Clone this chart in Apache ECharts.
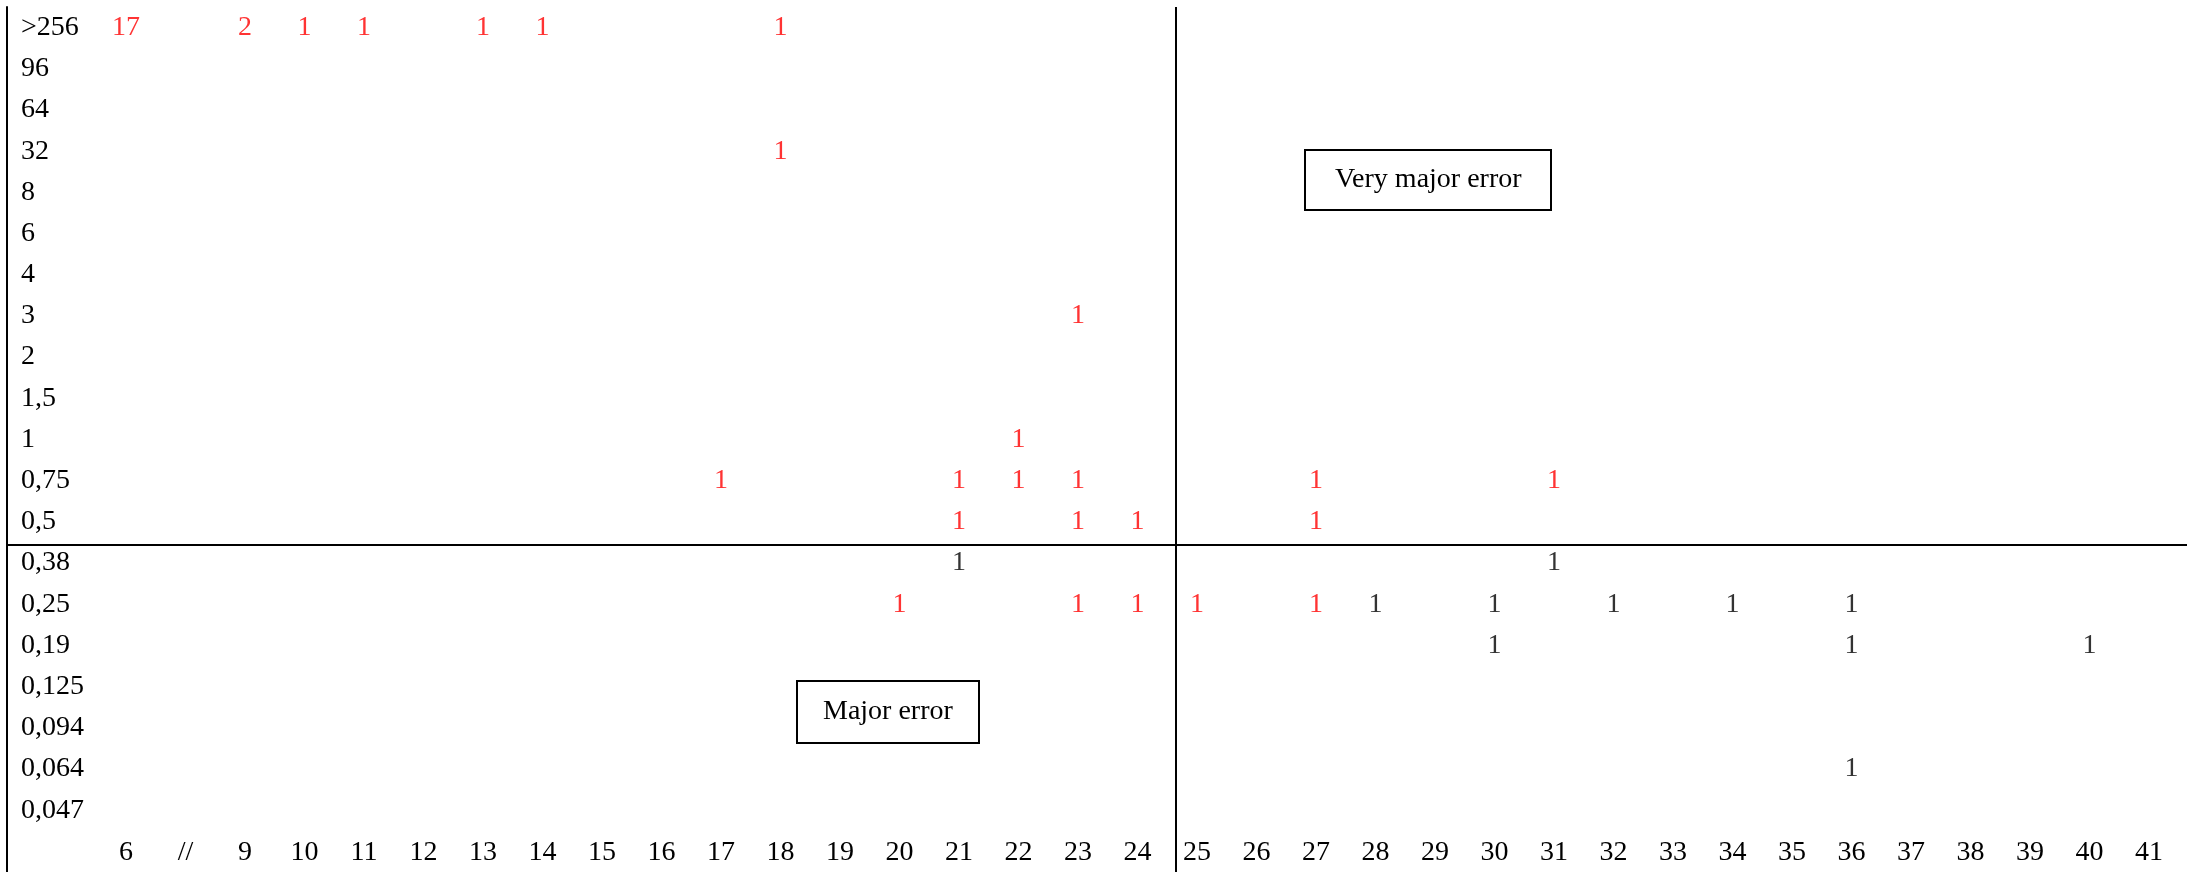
<!DOCTYPE html>
<html>
<head>
<meta charset="utf-8">
<title>MIC distribution</title>
<script src="https://cdn.jsdelivr.net/npm/echarts@6/dist/echarts.min.js"></script>
<style>
  html, body { margin: 0; padding: 0; background: #ffffff; }
  #chart { width: 2190px; height: 872px; }
</style>
</head>
<body>
<div id="chart"></div>
<script>
// Column categories (x) and MIC rows (y, top to bottom)
const xLabels = ['6', '//', '9', '10', '11', '12', '13', '14', '15', '16', '17', '18', '19', '20',
  '21', '22', '23', '24', '25', '26', '27', '28', '29', '30', '31', '32', '33', '34', '35', '36',
  '37', '38', '39', '40', '41'];
const yLabels = ['>256', '96', '64', '32', '8', '6', '4', '3', '2', '1,5', '1', '0,75', '0,5',
  '0,38', '0,25', '0,19', '0,125', '0,094', '0,064', '0,047'];

// Counts shown in red: [column, row, count]
const redCounts = [
  ['6', '>256', 17], ['9', '>256', 2], ['10', '>256', 1], ['11', '>256', 1],
  ['13', '>256', 1], ['14', '>256', 1], ['18', '>256', 1],
  ['18', '32', 1],
  ['23', '3', 1],
  ['22', '1', 1],
  ['17', '0,75', 1], ['21', '0,75', 1], ['22', '0,75', 1], ['23', '0,75', 1],
  ['27', '0,75', 1], ['31', '0,75', 1],
  ['21', '0,5', 1], ['23', '0,5', 1], ['24', '0,5', 1], ['27', '0,5', 1],
  ['20', '0,25', 1], ['23', '0,25', 1], ['24', '0,25', 1], ['25', '0,25', 1], ['27', '0,25', 1]
];

// Counts shown in black: [column, row, count]
const blackCounts = [
  ['21', '0,38', 1], ['31', '0,38', 1],
  ['28', '0,25', 1], ['30', '0,25', 1], ['32', '0,25', 1], ['34', '0,25', 1], ['36', '0,25', 1],
  ['30', '0,19', 1], ['36', '0,19', 1], ['40', '0,19', 1],
  ['36', '0,064', 1]
];

// Divider positions in axis units: between columns 24|25 and rows 0,5|0,38
const dividerX = 17.65;
const dividerY = 12.55;

const FONT = '"Liberation Serif", "Times New Roman", serif';
const FS = 28;

function toPoints(list) {
  return list.map(([x, y, n]) => [xLabels.indexOf(x), yLabels.indexOf(y), n]);
}

function countSeries(name, list, color) {
  return {
    name: name,
    type: 'scatter',
    symbolSize: 0,
    data: toPoints(list),
    itemStyle: { color: 'rgba(0,0,0,0)' },
    label: {
      show: true,
      position: 'inside',
      formatter: p => String(p.value[2]),
      color: color,
      fontFamily: FONT,
      fontSize: FS
    },
    emphasis: { disabled: true },
    silent: true
  };
}

const chart = echarts.init(document.getElementById('chart'), null, { renderer: 'canvas' });

const boxText = {
  fontFamily: FONT,
  fontSize: FS,
  fontWeight: 'normal',
  color: '#000000',
  lineHeight: 30
};

chart.setOption({
  backgroundColor: '#ffffff',
  animation: false,
  title: [
    {
      text: 'Very major error',
      left: 1305, top: 150,
      padding: [15, 30],
      borderColor: '#000000', borderWidth: 2,
      textStyle: boxText
    },
    {
      text: 'Major error',
      left: 797, top: 681,
      padding: [16, 26],
      borderColor: '#000000', borderWidth: 2,
      textStyle: boxText
    }
  ],
  grid: { left: 7, right: 3, top: 7, bottom: 0, containLabel: false },
  xAxis: {
    type: 'value',
    min: -2,
    max: 34.64,
    interval: 1,
    axisLine: { show: false },
    axisTick: { show: false },
    splitLine: { show: false },
    axisLabel: {
      inside: true,
      margin: 5,
      showMinLabel: true,
      showMaxLabel: true,
      fontFamily: FONT,
      fontSize: FS,
      color: '#000000',
      formatter: v => (Number.isInteger(v) && v >= 0 && v < xLabels.length) ? xLabels[v] : ''
    }
  },
  yAxis: {
    type: 'value',
    inverse: true,
    min: -0.5,
    max: 20.5,
    interval: 0.5,
    axisLine: { show: true, onZero: false, lineStyle: { color: '#000000', width: 2 } },
    axisTick: { show: false },
    splitLine: { show: false },
    axisLabel: {
      inside: true,
      align: 'left',
      margin: 14,
      showMinLabel: true,
      showMaxLabel: true,
      fontFamily: FONT,
      fontSize: FS,
      color: '#000000',
      formatter: v => (Number.isInteger(v) && v >= 0 && v < yLabels.length) ? yLabels[v] : ''
    }
  },
  series: [
    countSeries('red', redCounts, '#ff0000'),
    Object.assign(countSeries('black', blackCounts, '#000000'), {
      markLine: {
        silent: true,
        symbol: 'none',
        label: { show: false },
        lineStyle: { color: '#000000', width: 2, type: 'solid' },
        emphasis: { disabled: true },
        data: [{ xAxis: dividerX }, { yAxis: dividerY }]
      }
    })
  ]
});
</script>
</body>
</html>
